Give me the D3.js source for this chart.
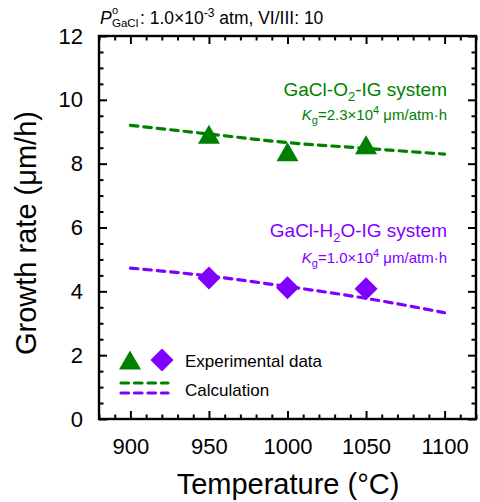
<!DOCTYPE html>
<html>
<head>
<meta charset="utf-8">
<script src="https://cdn.jsdelivr.net/npm/d3@7"></script>
<style>
  html, body { margin: 0; padding: 0; background: #fff; }
  svg { display: block; font-family: "Liberation Sans", Arial, sans-serif; }
</style>
</head>
<body>
<svg id="chart" width="480" height="502"></svg>
<script>
// ---- data ----
const xTicks = [900, 950, 1000, 1050, 1100];
const yTicks = [0, 2, 4, 6, 8, 10, 12];
const expTemps = [950, 1000, 1050];
const o2Exp = [8.92, 8.37, 8.59];
const h2oExp = [4.42, 4.11, 4.08];
const calcTemps = [900, 950, 1000, 1050, 1100];
const o2Calc = [9.2, 8.93, 8.66, 8.48, 8.3];
const h2oCalc = [4.73, 4.48, 4.15, 3.78, 3.33];

const GREEN = "#008000";
const PURPLE = "#8000ff";

const svg = d3.select("#chart");
const L = 99, R = 476, T = 36, B = 419;
const x = d3.scaleLinear().domain([880, 1120]).range([L, R]);
const y = d3.scaleLinear().domain([0, 12]).range([B, T]);

const xMinor = d3.range(880, 1121, 10).filter(v => !xTicks.includes(v));
const yMinor = d3.range(0, 12.01, 0.5).filter(v => !yTicks.includes(v));

function styleAxis(g) {
  g.select(".domain").remove();
  g.selectAll(".tick line").attr("stroke", "#000").attr("stroke-width", 2);
  g.selectAll(".tick text").attr("fill", "#000");
}

// bottom
svg.append("g").attr("transform", `translate(0,${B})`)
  .call(d3.axisBottom(x).tickValues(xTicks).tickFormat(d3.format("d")).tickSizeInner(-8).tickSizeOuter(0).tickPadding(19))
  .call(styleAxis).style("font-size", "22px").style("font-family", "Liberation Sans, Arial, sans-serif");
svg.append("g").attr("transform", `translate(0,${B})`)
  .call(d3.axisBottom(x).tickValues(xMinor).tickSizeInner(-4.5).tickSizeOuter(0).tickFormat(""))
  .call(styleAxis);
// top
svg.append("g").attr("transform", `translate(0,${T})`)
  .call(d3.axisTop(x).tickValues(xTicks).tickSizeInner(-8).tickSizeOuter(0).tickFormat(""))
  .call(styleAxis);
svg.append("g").attr("transform", `translate(0,${T})`)
  .call(d3.axisTop(x).tickValues(xMinor).tickSizeInner(-4.5).tickSizeOuter(0).tickFormat(""))
  .call(styleAxis);
// left
svg.append("g").attr("transform", `translate(${L},0)`)
  .call(d3.axisLeft(y).tickValues(yTicks).tickFormat(d3.format("d")).tickSizeInner(-8).tickSizeOuter(0).tickPadding(16))
  .call(styleAxis).style("font-size", "22px").style("font-family", "Liberation Sans, Arial, sans-serif");
svg.append("g").attr("transform", `translate(${L},0)`)
  .call(d3.axisLeft(y).tickValues(yMinor).tickSizeInner(-4.5).tickSizeOuter(0).tickFormat(""))
  .call(styleAxis);
// right
svg.append("g").attr("transform", `translate(${R},0)`)
  .call(d3.axisRight(y).tickValues(yTicks).tickSizeInner(-8).tickSizeOuter(0).tickFormat(""))
  .call(styleAxis);
svg.append("g").attr("transform", `translate(${R},0)`)
  .call(d3.axisRight(y).tickValues(yMinor).tickSizeInner(-4.5).tickSizeOuter(0).tickFormat(""))
  .call(styleAxis);

// frame
svg.append("rect").attr("x", L).attr("y", T).attr("width", R - L).attr("height", B - T)
  .attr("fill", "none").attr("stroke", "#000").attr("stroke-width", 2.4);

// calc lines
const line = d3.line().x(d => x(d[0])).y(d => y(d[1])).curve(d3.curveMonotoneX);
svg.append("path").datum(calcTemps.map((t, i) => [t, o2Calc[i]]))
  .attr("d", line).attr("fill", "none").attr("stroke", GREEN).attr("stroke-width", 3.2)
  .attr("stroke-dasharray", "7.5,6").attr("stroke-linecap", "round");
svg.append("path").datum(calcTemps.map((t, i) => [t, h2oCalc[i]]))
  .attr("d", line).attr("fill", "none").attr("stroke", PURPLE).attr("stroke-width", 3.2)
  .attr("stroke-dasharray", "7.5,6").attr("stroke-linecap", "round");

// markers
function triPath(cx, cy) {
  const w = 11, h = 9.5;
  return `M${cx},${cy - h}L${cx + w},${cy + h}L${cx - w},${cy + h}Z`;
}
function diaPath(cx, cy) {
  const r = 11.5;
  return `M${cx},${cy - r}L${cx + r},${cy}L${cx},${cy + r}L${cx - r},${cy}Z`;
}
svg.append("g").selectAll("path").data(expTemps.map((t, i) => [t, o2Exp[i]]))
  .join("path").attr("d", d => triPath(x(d[0]), y(d[1]))).attr("fill", GREEN);
svg.append("g").selectAll("path").data(expTemps.map((t, i) => [t, h2oExp[i]]))
  .join("path").attr("d", d => diaPath(x(d[0]), y(d[1]))).attr("fill", PURPLE);

// axis titles
svg.append("text").attr("x", 288).attr("y", 494).attr("text-anchor", "middle")
  .style("font-size", "29px").text("Temperature (°C)");
svg.append("text").attr("transform", "translate(36,233) rotate(-90)").attr("text-anchor", "middle")
  .style("font-size", "29px").text("Growth rate (μm/h)");

// title
const tt = svg.append("g").style("font-size", "17.5px");
tt.append("text").attr("x", 100).attr("y", 24).style("font-style", "italic").text("P");
tt.append("text").attr("x", 112).attr("y", 14).style("font-size", "11px").text("o");
tt.append("text").attr("x", 112).attr("y", 27).style("font-size", "11.5px").text("GaCl");
const t2 = tt.append("text").attr("x", 140).attr("y", 24);
t2.append("tspan").text(": 1.0×10");
t2.append("tspan").attr("dy", -7).style("font-size", "12px").text("-3");
t2.append("tspan").attr("dy", 7).text(" atm, VI/III: 10");

// annotations
function sysLabel(yy, color, parts) {
  const t = svg.append("text").attr("x", 447).attr("y", yy).attr("text-anchor", "end")
    .attr("fill", color).style("font-size", "19px");
  parts.forEach(p => {
    const s = t.append("tspan").text(p.t);
    if (p.dy) s.attr("dy", p.dy);
    if (p.fs) s.style("font-size", p.fs);
  });
}
sysLabel(96, GREEN, [{t: "GaCl-O"}, {t: "2", dy: 5, fs: "13px"}, {t: "-IG system", dy: -5}]);
sysLabel(237, PURPLE, [{t: "GaCl-H"}, {t: "2", dy: 5, fs: "13px"}, {t: "O-IG system", dy: -5}]);
function kLabel(yy, color, val) {
  const t = svg.append("text").attr("x", 447).attr("y", yy).attr("text-anchor", "end")
    .attr("fill", color).style("font-size", "15px");
  t.append("tspan").style("font-style", "italic").text("K");
  t.append("tspan").attr("dy", 4).style("font-size", "11px").text("g");
  t.append("tspan").attr("dy", -4).text("=" + val + "×10");
  t.append("tspan").attr("dy", -6).style("font-size", "11px").text("4");
  t.append("tspan").attr("dy", 6).text(" μm/atm·h");
}
kLabel(120, GREEN, "2.3");
kLabel(263, PURPLE, "1.0");

// legend
svg.append("path").attr("d", triPath(130, 360)).attr("fill", GREEN);
svg.append("path").attr("d", diaPath(162, 360)).attr("fill", PURPLE);
svg.append("line").attr("x1", 121).attr("x2", 168).attr("y1", 383).attr("y2", 383)
  .attr("stroke", GREEN).attr("stroke-width", 3.2).attr("stroke-dasharray", "7.5,6").attr("stroke-linecap", "round");
svg.append("line").attr("x1", 121).attr("x2", 168).attr("y1", 393).attr("y2", 393)
  .attr("stroke", PURPLE).attr("stroke-width", 3.2).attr("stroke-dasharray", "7.5,6").attr("stroke-linecap", "round");
svg.append("text").attr("x", 185).attr("y", 367).style("font-size", "17px").text("Experimental data");
svg.append("text").attr("x", 185).attr("y", 396).style("font-size", "17px").text("Calculation");
</script>
</body>
</html>
